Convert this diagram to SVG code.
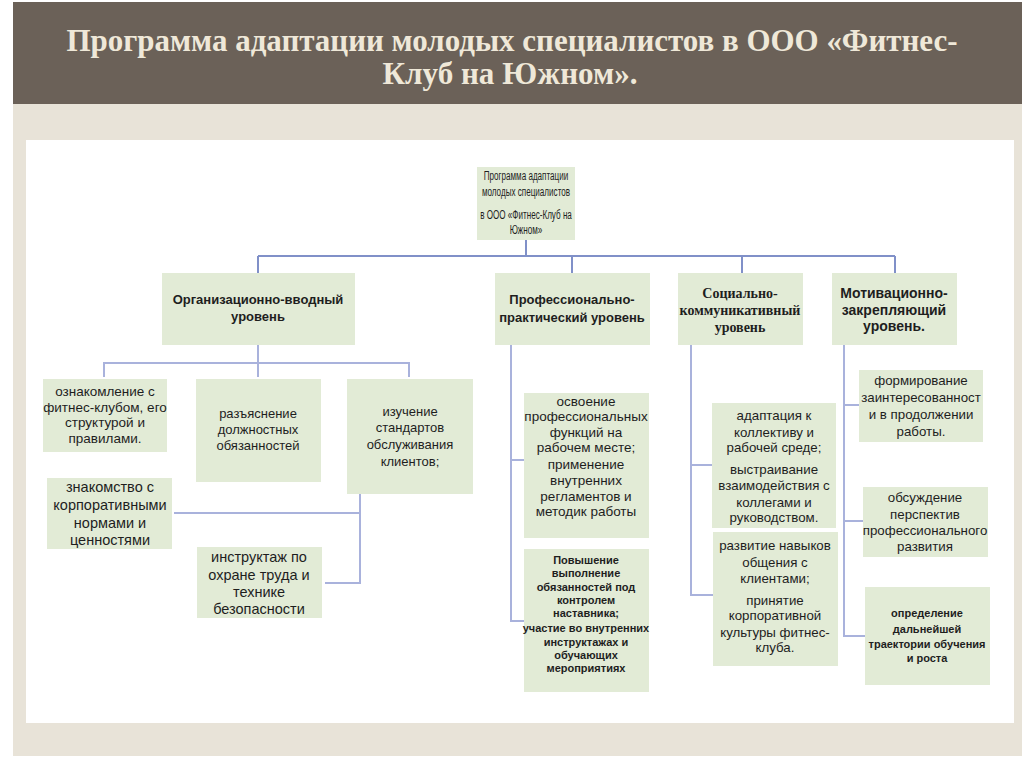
<svg xmlns="http://www.w3.org/2000/svg" width="1024" height="767" viewBox="0 0 1024 767">
<style>
.box{fill:#e2ebd6}
.t{font-family:"Liberation Sans",Arial,sans-serif;fill:#1e1e1e;text-anchor:middle}
.b{font-weight:bold}
.sf{font-family:"Liberation Serif","Times New Roman",serif;font-weight:bold}
.conn{fill:none;stroke:#8090c8;stroke-width:2}
.conn2{fill:none;stroke:#a9b2dc;stroke-width:2}
.title{font-family:"Liberation Serif","Times New Roman",serif;font-weight:bold;font-size:32px;fill:#efe8d8;text-anchor:middle}
</style>
<rect x="0" y="0" width="1024" height="767" fill="#ffffff"/>
<rect x="13" y="2" width="1009" height="102" fill="#6b6158"/>
<rect x="13" y="104" width="1009" height="652" fill="#e8e3d8"/>
<rect x="26" y="140" width="988" height="583" fill="#ffffff"/>
<text class="title" x="512" y="51" textLength="891" lengthAdjust="spacingAndGlyphs">Программа адаптации молодых специалистов в ООО «Фитнес-</text>
<text class="title" x="510" y="84" textLength="255" lengthAdjust="spacingAndGlyphs">Клуб на Южном».</text>

<g id="connectors">
<path class="conn" d="M526,240 V256 M258,256 H895 M258,256 V273 M572,256 V273 M742,256 V273 M895,256 V273"/>
<path class="conn2" d="M258,345 V363 M104,377 V363 H409 V377 M258,363 V377 M360,494 V583 H325 M174,513 H360"/>
<path class="conn2" d="M511,345 V621 H524 M511,460 H524"/>
<path class="conn2" d="M691,345 V595 H713 M691,465 H712"/>
<path class="conn2" d="M844,345 V636 H865 M844,405 H859 M844,521 H863"/>
</g>

<g id="root">
<rect class="box" x="477" y="167" width="98" height="73"/>
<g transform="translate(526 0) scale(0.6 1)">
<text class="t" font-size="13.5"><tspan x="0" y="180">Программа адаптации</tspan><tspan x="0" y="196">молодых специалистов</tspan><tspan x="0" y="219">в ООО «Фитнес-Клуб на</tspan><tspan x="0" y="234">Южном»</tspan></text>
</g>
</g>

<g id="level-org">
<rect class="box" x="162" y="273" width="193" height="72"/>
<text class="t b" font-size="13"><tspan x="258" y="304">Организационно-вводный</tspan><tspan x="258" y="321">уровень</tspan></text>
</g>
<g id="level-prof">
<rect class="box" x="495" y="273" width="155" height="72"/>
<text class="t b" font-size="13"><tspan x="572" y="304">Профессионально-</tspan><tspan x="572" y="322">практический уровень</tspan></text>
</g>
<g id="level-soc">
<rect class="box" x="678" y="273" width="125" height="72"/>
<text class="t sf" font-size="14"><tspan x="740" y="298">Социально-</tspan><tspan x="740" y="315">коммуникативный</tspan><tspan x="740" y="332">уровень</tspan></text>
</g>
<g id="level-motiv">
<rect class="box" x="832" y="273" width="125" height="72"/>
<text class="t b" font-size="14"><tspan x="894" y="298">Мотивационно-</tspan><tspan x="894" y="315">закрепляющий</tspan><tspan x="894" y="331">уровень.</tspan></text>
</g>

<g id="org-1">
<rect class="box" x="43" y="379" width="124" height="73"/>
<text class="t" font-size="13.5"><tspan x="105" y="396">ознакомление с</tspan><tspan x="105" y="412">фитнес-клубом, его</tspan><tspan x="105" y="427">структурой и</tspan><tspan x="105" y="443">правилами.</tspan></text>
</g>
<g id="org-2">
<rect class="box" x="196" y="379" width="125" height="103"/>
<text class="t" font-size="13"><tspan x="258" y="418">разъяснение</tspan><tspan x="258" y="434">должностных</tspan><tspan x="258" y="450">обязанностей</tspan></text>
</g>
<g id="org-3">
<rect class="box" x="347" y="379" width="126" height="115"/>
<text class="t" font-size="13"><tspan x="410" y="416">изучение</tspan><tspan x="410" y="432">стандартов</tspan><tspan x="410" y="449">обслуживания</tspan><tspan x="410" y="466">клиентов;</tspan></text>
</g>
<g id="org-4">
<rect class="box" x="47" y="478" width="125" height="71"/>
<text class="t" font-size="14.5"><tspan x="110" y="492">знакомство с</tspan><tspan x="110" y="510">корпоративными</tspan><tspan x="110" y="528">нормами и</tspan><tspan x="110" y="545">ценностями</tspan></text>
</g>
<g id="org-5">
<rect class="box" x="197" y="547" width="125" height="71"/>
<text class="t" font-size="14.5"><tspan x="259" y="562">инструктаж по</tspan><tspan x="259" y="580">охране труда и</tspan><tspan x="259" y="597">технике</tspan><tspan x="259" y="614">безопасности</tspan></text>
</g>

<g id="prof-1">
<rect class="box" x="524" y="393" width="125" height="145"/>
<text class="t" font-size="13.5"><tspan x="586" y="406">освоение</tspan><tspan x="586" y="421">профессиональных</tspan><tspan x="586" y="437">функций на</tspan><tspan x="586" y="452">рабочем месте;</tspan><tspan x="586" y="469">применение</tspan><tspan x="586" y="485">внутренних</tspan><tspan x="586" y="501">регламентов и</tspan><tspan x="586" y="516">методик работы</tspan></text>
</g>
<g id="prof-2">
<rect class="box" x="524" y="549" width="125" height="143"/>
<text class="t b" font-size="11"><tspan x="586" y="564">Повышение</tspan><tspan x="586" y="577">выполнение</tspan><tspan x="586" y="591">обязанностей под</tspan><tspan x="586" y="604">контролем</tspan><tspan x="586" y="617">наставника;</tspan><tspan x="586" y="632">участие во внутренних</tspan><tspan x="586" y="646">инструктажах и</tspan><tspan x="586" y="659">обучающих</tspan><tspan x="586" y="672">мероприятиях</tspan></text>
</g>

<g id="soc-1">
<rect class="box" x="712" y="403" width="124" height="125"/>
<text class="t" font-size="13.3"><tspan x="774" y="420">адаптация к</tspan><tspan x="774" y="437">коллективу и</tspan><tspan x="774" y="452">рабочей среде;</tspan><tspan x="774" y="474">выстраивание</tspan><tspan x="774" y="490">взаимодействия с</tspan><tspan x="774" y="507">коллегами и</tspan><tspan x="774" y="522">руководством.</tspan></text>
</g>
<g id="soc-2">
<rect class="box" x="713" y="532" width="125" height="134"/>
<text class="t" font-size="13.3"><tspan x="775" y="550">развитие навыков</tspan><tspan x="775" y="567">общения с</tspan><tspan x="775" y="583">клиентами;</tspan><tspan x="775" y="605">принятие</tspan><tspan x="775" y="620">корпоративной</tspan><tspan x="775" y="637">культуры фитнес-</tspan><tspan x="775" y="652">клуба.</tspan></text>
</g>

<g id="motiv-1">
<rect class="box" x="859" y="370" width="124" height="72"/>
<text class="t" font-size="13.3"><tspan x="921" y="385">формирование</tspan><tspan x="921" y="402">заинтересованност</tspan><tspan x="921" y="419">и в продолжении</tspan><tspan x="921" y="436">работы.</tspan></text>
</g>
<g id="motiv-2">
<rect class="box" x="863" y="487" width="125" height="70"/>
<text class="t" font-size="13.3"><tspan x="925" y="502">обсуждение</tspan><tspan x="925" y="519">перспектив</tspan><tspan x="925" y="535">профессионального</tspan><tspan x="925" y="551">развития</tspan></text>
</g>
<g id="motiv-3">
<rect class="box" x="865" y="587" width="125" height="98"/>
<text class="t b" font-size="11"><tspan x="927" y="617">определение</tspan><tspan x="927" y="633">дальнейшей</tspan><tspan x="927" y="648">траектории обучения</tspan><tspan x="927" y="662">и роста</tspan></text>
</g>
</svg>
